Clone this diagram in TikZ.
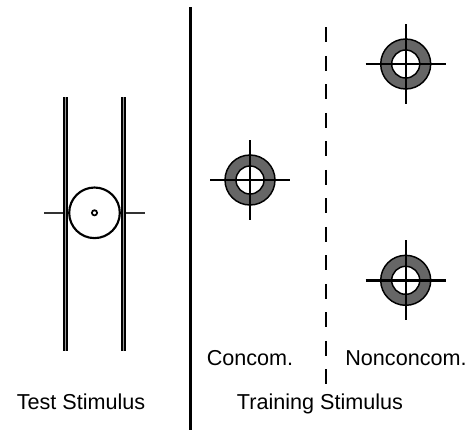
\documentclass[tikz,border=0pt]{standalone}
\usepackage{fontspec}
\setmainfont{Liberation Sans}
\usetikzlibrary{calc}
\tikzset{
  px/.style={x=0.75pt,y=-0.75pt},
  rail/.style={line width=1.65pt,black,double=black!40,double distance=0.65pt},
  tick/.style={line width=1.4pt,black!80},
  divider/.style={line width=1.8pt,black},
  splitline/.style={line width=1.7pt,black,dash pattern=on 11.25pt off 10.125pt},
  hair/.style={line width=1.8pt,black},
  label/.style={font=\fontsize{16.2pt}{19pt}\selectfont,anchor=base,inner sep=0pt}
}
\newcommand{\targetmark}[1]{%
  \fill[fill=black!60,even odd rule] (#1) circle[radius=25] (#1) circle[radius=14];
  \draw[line width=1.1pt] (#1) circle[radius=25] (#1) circle[radius=14];
  \draw[hair] ($(#1)+(-40,0)$) -- ($(#1)+(40,0)$);
  \draw[hair] ($(#1)+(0,-40)$) -- ($(#1)+(0,40)$);
}
\begin{document}
\begin{tikzpicture}[px]
  \useasboundingbox (0,0) rectangle (473,430);
  % test stimulus: rails, disc and flanking ticks
  \coordinate (disc) at (94.5,212.8);
  \foreach \x in {65.6,123.6} \draw[rail] (\x,97) -- (\x,350.5);
  \draw[line width=1.6pt] (disc) circle[radius=25.3];
  \draw[line width=1.3pt] (disc) circle[radius=2.6];
  \draw[tick] (44,212.8) -- (63,212.8);
  \draw[tick] (126,212.8) -- (145,212.8);
  % separators
  \coordinate (divtop) at (190.5,7.3);
  \coordinate (divbot) at (190.5,430);
  \draw[divider] (divtop) -- (divbot);
  \coordinate (dashtop) at (325.7,27.3);
  \coordinate (dashbot) at (325.7,384.3);
  \draw[splitline] (dashtop) -- (dashbot);
  % training targets
  \coordinate (tc) at (250,180);
  \coordinate (tn1) at (405.7,64);
  \coordinate (tn2) at (405.7,280.3);
  \targetmark{tc}
  \targetmark{tn1}
  \targetmark{tn2}
  % labels
  \node[label] (concom) at (250,365) {Concom.};
  \node[label] (nonconcom) at (406,365) {Nonconcom.};
  \node[label] (test) at (81,409) {Test Stimulus};
  \node[label] (training) at (320,409) {Training Stimulus};
\end{tikzpicture}
\end{document}
